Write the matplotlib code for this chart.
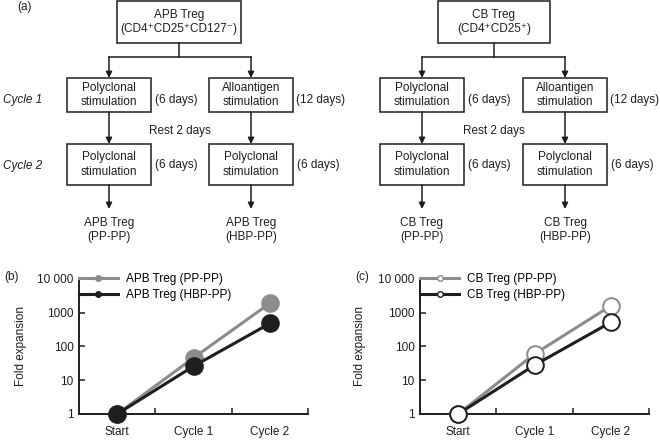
import numpy as np
import matplotlib
matplotlib.use("Agg")
import matplotlib.pyplot as plt
from matplotlib.patches import Rectangle
from matplotlib.lines import Line2D
from matplotlib.ticker import FixedLocator, NullLocator

plt.rcParams['font.family'] = ['Liberation Sans', 'DejaVu Sans']
plt.rcParams['font.size'] = 8.5

INK = '#1e1e1e'
GREY = '#8c8c8c'

# data
stages = ['Start', 'Cycle 1', 'Cycle 2']
apb_pp = [1, 46, 1900]
apb_hbp = [1, 26, 480]
cb_pp = [1, 60, 1600]
cb_hbp = [1, 28, 520]
ytick_vals = [1, 10, 100, 1000, 10000]
ytick_labels = ['1', '10', '100', '1000', '10 000']

fig = plt.figure(figsize=(6.6, 4.4), dpi=100)

# ---- (a) flow chart, drawn in pixel coordinates ----
fa = fig.add_axes([0, 0, 1, 1])
fa.set_xlim(0, 660)
fa.set_ylim(440, 0)
fa.axis('off')


def box(x0, x1, y0, y1, text):
    fa.add_patch(Rectangle((x0, y0), x1 - x0, y1 - y0, fill=False,
                           ec=INK, lw=1.1))
    fa.text((x0 + x1) / 2, (y0 + y1) / 2, text, ha='center', va='center',
            linespacing=1.25, color=INK)


def arrow(x, y0, y1):
    fa.annotate('', xy=(x, y1), xytext=(x, y0),
                arrowprops=dict(arrowstyle='-|>', lw=1.1, color=INK,
                                mutation_scale=9, shrinkA=0, shrinkB=0))


def column(top_x0, top_x1, top_text, lx, rx, name):
    box(top_x0, top_x1, 1, 43, top_text)
    cx = (top_x0 + top_x1) / 2
    fa.plot([cx, cx], [43, 57], color=INK, lw=1.1)
    fa.plot([lx, rx], [57, 57], color=INK, lw=1.1)
    for x in (lx, rx):
        arrow(x, 57, 78)
        arrow(x, 112, 144)
        arrow(x, 185, 209)
    box(lx - 42, lx + 42, 78, 112, 'Polyclonal\nstimulation')
    box(rx - 42, rx + 42, 78, 112, 'Alloantigen\nstimulation')
    box(lx - 42, lx + 42, 144, 185, 'Polyclonal\nstimulation')
    box(rx - 42, rx + 42, 144, 185, 'Polyclonal\nstimulation')
    fa.text(lx + 46, 100, '(6 days)', va='center', color=INK)
    fa.text(rx + 45, 100, '(12 days)', va='center', color=INK)
    fa.text(lx + 46, 165, '(6 days)', va='center', color=INK)
    fa.text(rx + 46, 165, '(6 days)', va='center', color=INK)
    fa.text((lx + rx) / 2, 131, 'Rest 2 days', ha='center', va='center',
            color=INK)
    fa.text(lx, 230, name + '\n(PP-PP)', ha='center', va='center',
            linespacing=1.25, color=INK)
    fa.text(rx, 230, name + '\n(HBP-PP)', ha='center', va='center',
            linespacing=1.25, color=INK)


column(117, 241, 'APB Treg\n(CD4\u207aCD25\u207aCD127\u207b)', 109, 251,
       'APB Treg')
column(438, 550, 'CB Treg\n(CD4\u207aCD25\u207a)', 422, 565, 'CB Treg')
fa.text(3, 100, 'Cycle 1', style='italic', va='center', color=INK)
fa.text(3, 166, 'Cycle 2', style='italic', va='center', color=INK)
fa.text(17, 7, '(a)', va='center', color=INK)
fa.text(4, 277, '(b)', va='center', color=INK)
fa.text(355, 277, '(c)', va='center', color=INK)


# ---- (b) and (c) fold expansion ----
def expansion(rect, pp, hbp, label, face_pp, face_hbp, ylab_x):
    ax = fig.add_axes(rect)
    x = np.arange(len(stages))
    ax.plot(x, pp, '-o', color=GREY, lw=2.2, ms=12, mfc=face_pp,
            mec=GREY, mew=1.4, clip_on=False, zorder=3)
    ax.plot(x, hbp, '-o', color=INK, lw=2.2, ms=12, mfc=face_hbp,
            mec=INK, mew=1.4, clip_on=False, zorder=4)
    ax.set_yscale('log')
    ax.set_ylim(1, 10000)
    ax.set_xlim(-0.5, 2.5)
    ax.yaxis.set_major_locator(FixedLocator(ytick_vals))
    ax.yaxis.set_minor_locator(NullLocator())
    ax.set_yticklabels(ytick_labels)
    ax.set_xticks(x)
    ax.set_xticklabels(stages)
    ax.xaxis.set_minor_locator(FixedLocator([0.5, 1.5, 2.5]))
    ax.tick_params(axis='x', which='major', length=0, pad=9, colors=INK)
    ax.tick_params(axis='x', which='minor', direction='in', length=4,
                   width=1.1, color=INK)
    ax.tick_params(axis='y', direction='in', length=4, width=1.1, pad=4,
                   colors=INK)
    for s in ('top', 'right'):
        ax.spines[s].set_visible(False)
    for s in ('left', 'bottom'):
        ax.spines[s].set_linewidth(1.4)
        ax.spines[s].set_color(INK)
    ax.patch.set_alpha(0)
    ax.set_ylabel('Fold expansion', color=INK)
    ax.yaxis.set_label_coords(ylab_x, 0.5)
    handles = [
        Line2D([], [], color=GREY, lw=2.2, marker='o', ms=4,
               mfc=face_pp, mec=GREY),
        Line2D([], [], color=INK, lw=2.2, marker='o', ms=4,
               mfc=face_hbp, mec=INK),
    ]
    ax.legend(handles, [label + ' (PP-PP)', label + ' (HBP-PP)'],
              loc='upper left', bbox_to_anchor=(0.0, 1.045), frameon=False,
              borderpad=0, borderaxespad=0, handlelength=3.3,
              handletextpad=0.7, labelspacing=0.35)
    return ax


expansion([0.1197, 0.0591, 0.347, 0.307], apb_pp, apb_hbp, 'APB Treg',
          GREY, INK, -0.225)
expansion([0.6364, 0.0591, 0.347, 0.307], cb_pp, cb_hbp, 'CB Treg',
          'white', 'white', -0.235)

fig.savefig('out.png', dpi=100)
